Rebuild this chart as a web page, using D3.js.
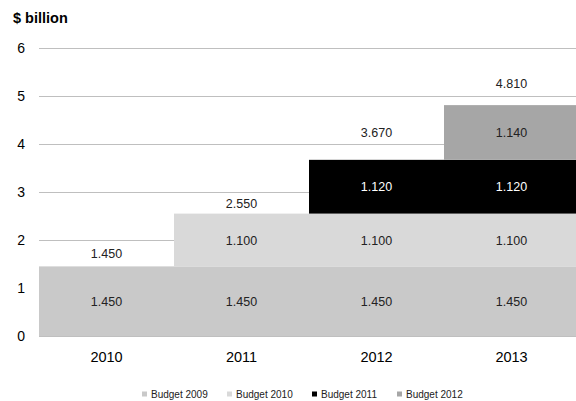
<!DOCTYPE html>
<html>
<head>
<meta charset="utf-8">
<script src="https://cdn.jsdelivr.net/npm/d3@7"></script>
<style>
  html, body { margin: 0; padding: 0; background: #fff; }
  svg { display: block; font-family: "Liberation Sans", Arial, sans-serif; }
</style>
</head>
<body>
<svg id="chart" width="576" height="401"></svg>
<script>
// Years on the x axis
const years = ["2010", "2011", "2012", "2013"];
// Budget series (stack order bottom to top); null = no segment that year
const seriesNames = ["Budget 2009", "Budget 2010", "Budget 2011", "Budget 2012"];
const budget2009 = [1.450, 1.450, 1.450, 1.450];
const budget2010 = [null, 1.100, 1.100, 1.100];
const budget2011 = [null, null, 1.120, 1.120];
const budget2012 = [null, null, null, 1.140];
const totals = [1.450, 2.550, 3.670, 4.810];
const yTicks = [0, 1, 2, 3, 4, 5, 6];

// Styling and layout
const colors = ["#c9c9c9", "#d9d9d9", "#000000", "#a6a6a6"];
const totalLabelLift = [13, 10, 27, 22]; // px between stack top and total label centre

const seriesValues = [budget2009, budget2010, budget2011, budget2012];
const svg = d3.select("#chart");

const plotLeft = 39, plotRight = 579, plotTop = 48, plotBottom = 336;
const x = d3.scaleBand().domain(years).range([plotLeft, plotRight]).padding(0);
const y = d3.scaleLinear().domain([0, 6]).range([plotBottom, plotTop]);

// Title
svg.append("text").attr("x", 13).attr("y", 23)
  .attr("font-size", 14.5).attr("font-weight", "bold").attr("fill", "#000")
  .text("$ billion");

// Gridlines
svg.append("g").selectAll("line").data(yTicks.filter(d => d > 0)).join("line")
  .attr("x1", plotLeft).attr("x2", 576)
  .attr("y1", d => Math.round(y(d)) + 0.5).attr("y2", d => Math.round(y(d)) + 0.5)
  .attr("stroke", "#bfbfbf").attr("stroke-width", 1);

// Y axis tick labels
const yAxis = d3.axisLeft(y).tickValues(yTicks).tickSize(0).tickPadding(0).tickFormat(d3.format("d"));
const yg = svg.append("g").attr("transform", `translate(25,0)`).call(yAxis);
yg.select(".domain").remove();
yg.selectAll("text").attr("font-size", 14).attr("fill", "#000")
  .attr("font-family", "Liberation Sans, Arial, sans-serif");

// Stacked segments
const segments = [];
years.forEach((yr, i) => {
  let base = 0;
  seriesValues.forEach((vals, s) => {
    const v = vals[i];
    if (v != null) {
      segments.push({ year: yr, s, y0: base, y1: base + v, v });
      base += v;
    }
  });
});

svg.append("g").selectAll("rect").data(segments).join("rect")
  .attr("x", d => x(d.year))
  .attr("width", x.bandwidth())
  .attr("y", d => y(d.y1))
  .attr("height", d => y(d.y0) - y(d.y1))
  .attr("fill", d => colors[d.s]);

// Baseline
svg.append("line").attr("x1", plotLeft).attr("x2", 576)
  .attr("y1", plotBottom + 0.5).attr("y2", plotBottom + 0.5)
  .attr("stroke", "#bfbfbf");

// Segment value labels
svg.append("g").selectAll("text").data(segments).join("text")
  .attr("x", d => x(d.year) + x.bandwidth() / 2)
  .attr("y", d => (y(d.y0) + y(d.y1)) / 2 + 4.5)
  .attr("text-anchor", "middle").attr("font-size", 12.5)
  .attr("fill", d => d.s === 2 ? "#fff" : "#222")
  .text(d => d3.format(".3f")(d.v));

// Totals above each stack
svg.append("g").selectAll("text").data(totals).join("text")
  .attr("x", (d, i) => x(years[i]) + x.bandwidth() / 2)
  .attr("y", (d, i) => y(d) - totalLabelLift[i] + 4.5)
  .attr("text-anchor", "middle").attr("font-size", 12.5).attr("fill", "#222")
  .text(d => d3.format(".3f")(d));

// X axis labels
const xAxis = d3.axisBottom(x).tickSize(0).tickPadding(0);
const xg = svg.append("g").attr("transform", `translate(0,${plotBottom + 16})`).call(xAxis);
xg.select(".domain").remove();
xg.selectAll("text").attr("font-size", 14.5).attr("fill", "#000")
  .attr("font-family", "Liberation Sans, Arial, sans-serif");

// Legend
const legendX = [142, 227, 312, 397];
const lg = svg.append("g").selectAll("g").data(seriesNames).join("g")
  .attr("transform", (d, i) => `translate(${legendX[i]},394)`);
lg.append("rect").attr("x", 0).attr("y", -2.5).attr("width", 5).attr("height", 5)
  .attr("fill", (d, i) => colors[i]);
lg.append("text").attr("x", 9).attr("y", 3.6).attr("font-size", 10).attr("fill", "#222")
  .text(d => d);
</script>
</body>
</html>
